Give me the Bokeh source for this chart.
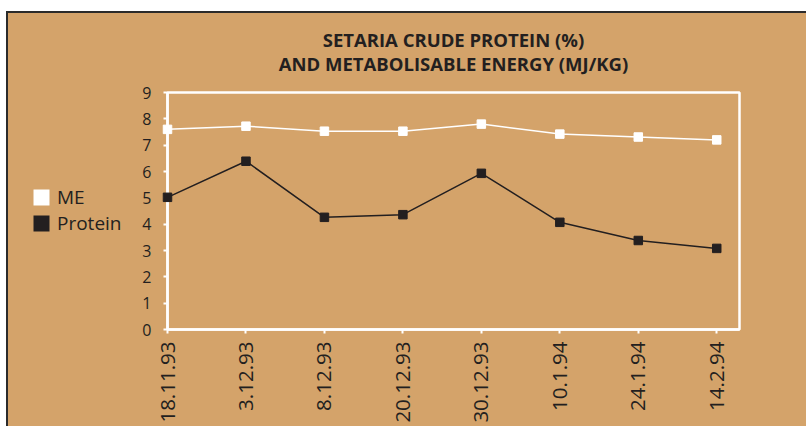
import math
from bokeh.plotting import figure
from bokeh.layouts import row, column
from bokeh.models import Range1d, FixedTicker, Legend, LegendItem, Label, ColumnDataSource
from bokeh.embed import file_html
from bokeh.resources import INLINE

dates = ["18.11.93", "3.12.93", "8.12.93", "20.12.93", "30.12.93", "10.1.94", "24.1.94", "14.2.94"]
me = [7.60, 7.72, 7.53, 7.53, 7.80, 7.42, 7.31, 7.20]
protein = [5.02, 6.39, 4.26, 4.36, 5.93, 4.07, 3.38, 3.08]
y_ticks = [0, 1, 2, 3, 4, 5, 6, 7, 8, 9]
series_names = ["ME", "Protein"]
title_lines = ["SETARIA CRUDE PROTEIN (%)", "AND METABOLISABLE ENERGY (MJ/KG)"]

TAN = "#D4A36A"
DARK = "#231F20"
FONT = "Open Sans"

x = list(range(len(dates)))
src = ColumnDataSource(dict(x=x, me=me, protein=protein))


def clear(f):
    f.background_fill_color = None
    f.border_fill_color = None
    f.grid.visible = False
    return f


def blank(width, height, xr, yr):
    f = figure(width=width, height=height, output_backend="svg", toolbar_location=None,
               x_range=xr, y_range=yr, x_axis_type=None, y_axis_type=None,
               min_border=0, min_border_left=0, min_border_right=0,
               min_border_top=0, min_border_bottom=0)
    f.outline_line_color = None
    return clear(f)


# ---- title strip (its frame lines up with the chart frame below)
TH = 67
tfig = blank(678, TH, Range1d(0, 1), Range1d(0, TH))
for txt, ty in zip(title_lines, [41.5, 17]):
    tfig.add_layout(Label(x=0.5, y=ty, text=txt, text_align="center", text_baseline="middle",
                          text_font=FONT, text_font_size="18.5px", text_font_style="bold",
                          text_color=DARK))

# ---- main chart
p = figure(width=678, height=346, output_backend="svg", toolbar_location=None,
           x_range=Range1d(0, 7.29), y_range=Range1d(0, 9),
           min_border_left=39, min_border_right=67, min_border_bottom=97, min_border_top=12)
clear(p)
p.outline_line_color = "white"
p.outline_line_width = 2.5

for ax in (p.xaxis[0], p.yaxis[0]):
    ax.axis_line_color = "white"
    ax.axis_line_width = 2.5
    ax.major_tick_line_color = "white"
    ax.major_tick_line_width = 2
    ax.major_tick_out = 4
    ax.major_tick_in = 0
    ax.minor_tick_line_color = None
    ax.major_label_text_font = FONT
    ax.major_label_text_color = DARK

p.xaxis.ticker = FixedTicker(ticks=x)
p.xaxis.major_label_overrides = {i: d for i, d in enumerate(dates)}
p.xaxis.major_label_orientation = math.pi / 2
p.xaxis.major_label_text_font_size = "20.5px"
p.xaxis.major_label_standoff = 8

p.yaxis.ticker = FixedTicker(ticks=y_ticks)
p.yaxis.major_label_text_font_size = "16px"
p.yaxis.major_label_standoff = 12

p.line("x", "me", source=src, line_color="white", line_width=1.5)
p.scatter("x", "me", source=src, marker="square", size=8.5, fill_color="white",
          line_color="white", level="overlay")
p.line("x", "protein", source=src, line_color=DARK, line_width=1.5)
p.scatter("x", "protein", source=src, marker="square", size=8.5, fill_color=DARK,
          line_color=DARK, level="overlay")

# ---- legend strip (proxy glyphs sit outside its view; the legend draws filled squares)
lfig = blank(120, 413, Range1d(-3, -2), Range1d(-3, -2))
l_me = lfig.block(x="x", y="me", width=0.5, height=0.5, source=src,
                  fill_color="white", line_color=None)
l_pr = lfig.block(x="x", y="protein", width=0.5, height=0.5, source=src,
                  fill_color=DARK, line_color=None)
legend = Legend(items=[LegendItem(label=series_names[0], renderers=[l_me]),
                       LegendItem(label=series_names[1], renderers=[l_pr])],
                location=(23, 190), glyph_width=20, glyph_height=20,
                label_text_font=FONT, label_text_font_size="19px", label_text_color=DARK,
                label_standoff=6, spacing=0, padding=0, margin=0, label_height=20,
                border_line_color=None, background_fill_alpha=0)
lfig.add_layout(legend)

layout = column(row(lfig, column(tfig, p)),
                styles={"margin-left": "6px", "margin-top": "11px",
                        "background-color": TAN,
                        "border-left": "2px solid #2b2b2b", "border-top": "2px solid #2b2b2b"})

open("out.html", "w").write(file_html(layout, INLINE))
